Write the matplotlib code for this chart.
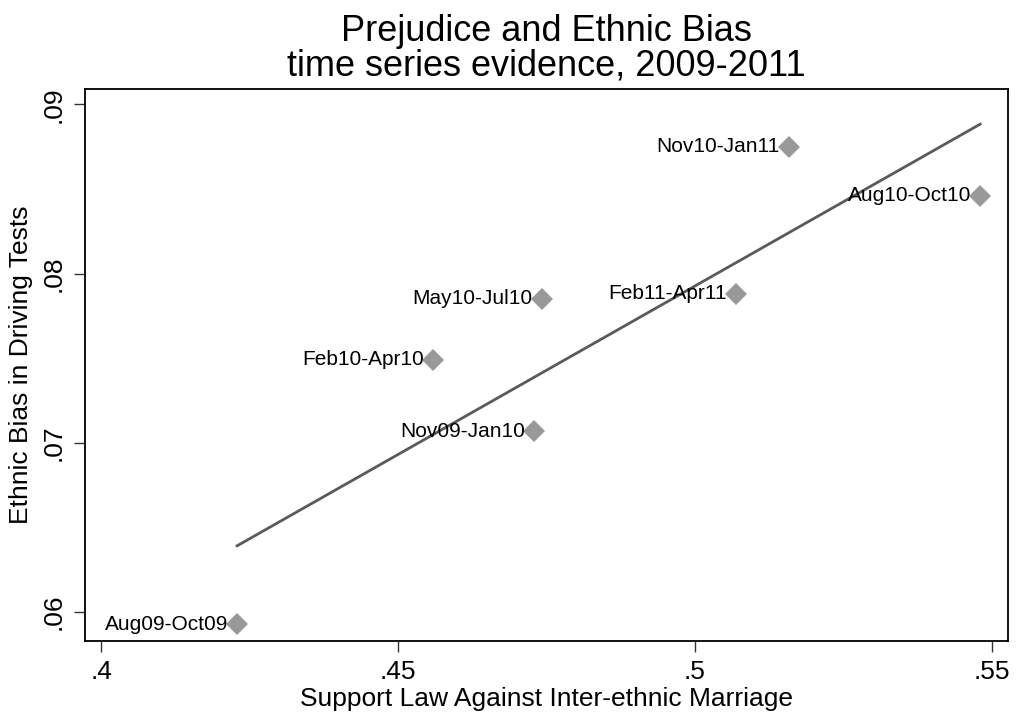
import matplotlib
matplotlib.use('Agg')
import matplotlib.pyplot as plt
import numpy as np

plt.rcParams['font.family'] = ['Liberation Sans', 'DejaVu Sans']

# periodos y valores
periods = ['Aug09-Oct09', 'Nov09-Jan10', 'Feb10-Apr10', 'May10-Jul10',
           'Feb11-Apr11', 'Nov10-Jan11', 'Aug10-Oct10']
support = [0.4229, 0.4729, 0.4559, 0.4742, 0.5069, 0.5158, 0.5480]
bias = [0.0593, 0.0707, 0.0749, 0.0785, 0.0788, 0.0875, 0.0846]

xticks = [0.40, 0.45, 0.50, 0.55]
xtick_labels = ['.4', '.45', '.5', '.55']
yticks = [0.06, 0.07, 0.08, 0.09]
ytick_labels = ['.06', '.07', '.08', '.09']

x = np.array(support)
y = np.array(bias)
b, a = np.polyfit(x, y, 1)  # recta de ajuste lineal
xf = np.array([x.min(), x.max()])

fig = plt.figure(figsize=(10.16, 7.19), dpi=100)
ax = fig.add_axes([0.0837, 0.1085, 0.9085, 0.7677])

ax.plot(xf, a + b * xf, color='#5a5a5a', linewidth=2)
ax.plot(x, y, linestyle='none', marker='D', markersize=11,
        color='#999999', markeredgewidth=0)
for lab, xi, yi in zip(periods, x, y):
    ax.annotate(lab, (xi, yi), xytext=(-6.5, 0), textcoords='offset points',
                ha='right', va='center', fontsize=15)

ax.set_xlim(0.3973, 0.5527)
ax.set_ylim(0.0583, 0.0909)
ax.set_xticks(xticks)
ax.set_xticklabels(xtick_labels)
ax.set_yticks(yticks)
ax.set_yticklabels(ytick_labels, rotation=90, va='center')
ax.tick_params(direction='out', length=8, width=1, color='#333333',
               labelsize=19, pad=6)

for s in ax.spines.values():
    s.set_linewidth(1.3)

ax.set_xlabel('Support Law Against Inter-ethnic Marriage', fontsize=19, labelpad=2)
ax.set_ylabel('Ethnic Bias in Driving Tests', fontsize=19, labelpad=6)
ax.set_title('Prejudice and Ethnic Bias\ntime series evidence, 2009-2011',
             fontsize=26, linespacing=0.95, pad=10)

fig.savefig('out.png', dpi=100)
